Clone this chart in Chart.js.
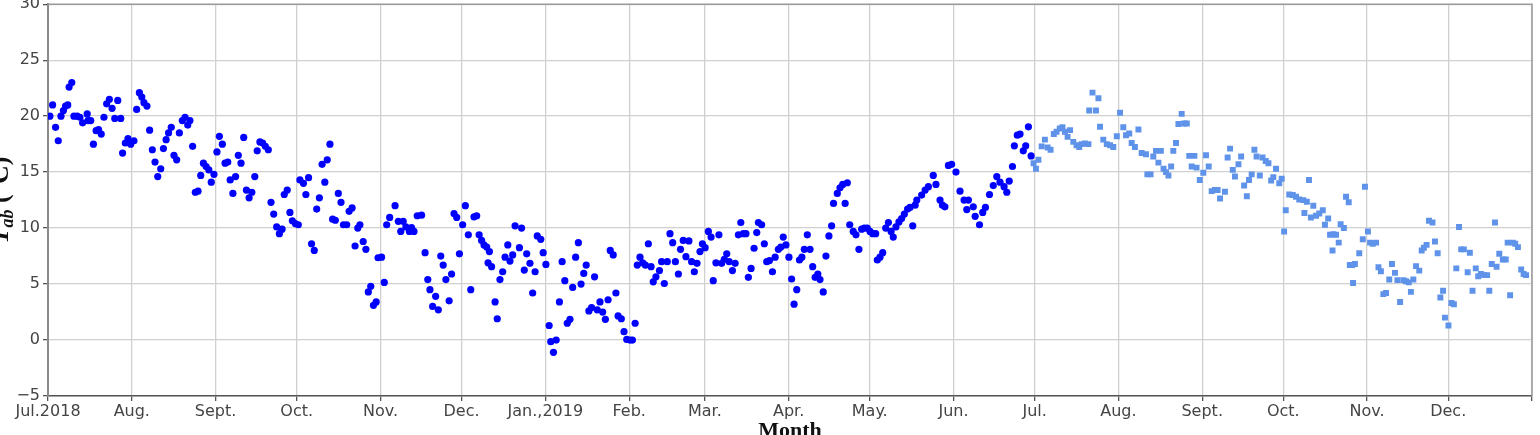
<!DOCTYPE html>
<html>
<head>
<meta charset="utf-8">
<title>Tab by month</title>
<script src="https://cdn.jsdelivr.net/npm/chart.js@4.4.1/dist/chart.umd.min.js"></script>
<style>
  body { margin: 0; background: #fff; }
  #chart-tab { display: block; }
</style>
</head>
<body>
<canvas id="chart-tab" width="1540" height="435"></canvas>
<script>
// x values are days counted from 1 Jul 2018
const darkDays = [
  0.7, 1.7, 2.8, 3.8, 4.8, 5.7, 6.5, 7.3, 7.8, 8.8, 9.6, 10.8, 11.8, 12.8, 14.5, 14.8, 15.8, 16.8, 17.8, 18.7,
  19.7, 20.7, 21.7, 22.7, 23.7, 24.7, 25.8, 26.9, 27.6, 28.6, 29.6, 30.6, 31.8, 32.8, 33.8, 34.7, 35.5, 36.6, 37.6, 38.6,
  39.6, 40.6, 41.7, 42.7, 43.7, 44.6, 45.6, 46.6, 47.6, 48.6, 49.7, 50.7, 51.7, 52.5, 53.5, 54.5, 55.5, 56.5, 57.5, 58.5,
  59.5, 60.4, 61.4, 62.5, 63.4, 64.5, 65.5, 66.5, 67.4, 68.4, 69.4, 70.4, 71.4, 72.4, 73.4, 74.4, 75.4, 76.5, 77.4, 78.4,
  79.4, 80.4, 81.5, 82.5, 83.5, 84.6, 85.6, 86.6, 87.4, 88.5, 89.5, 90.4, 91.5, 92.6, 93.2, 94.5, 95.4, 96.4, 97.5, 98.5,
  99.4, 100.4, 101.4, 102.4, 103.3, 104.3, 105.3, 106.3, 107.4, 108.4, 109.3, 110.5, 111.4, 112.5, 113.6, 114.6, 115.4, 116.6, 117.6, 118.5,
  119.4, 120.4, 121.4, 122.1, 123.4, 124.4, 125.3, 126.4, 128.4, 129.6, 130.5, 131.4, 132.4, 133.7, 134.5, 135.4, 136.6, 138.2, 139.5, 140.5,
  141.3, 142.3, 143.4, 144.4, 145.3, 146.2, 147.2, 148.4, 149.3, 150.2, 151.2, 152.2, 153.4, 154.4, 155.5, 156.4, 157.6, 158.6, 159.5, 160.4,
  161.3, 162.3, 162.8, 163.3, 164.1, 165.4, 166.2, 167.2, 168.2, 169.1, 170.1, 170.9, 171.9, 172.8, 174.4, 175.2, 176.2, 177.1, 178.3, 179.3,
  180.2, 181.0, 182.3, 183.2, 184.2, 185.4, 186.0, 187.0, 188.0, 189.2, 190.2, 191.2, 192.1, 193.1, 194.1, 195.2, 196.2, 197.2, 198.2, 199.1,
  200.1, 201.1, 202.2, 203.2, 204.2, 205.2, 206.2, 207.2, 208.0, 209.1, 210.1, 210.9, 212.1, 213.1, 214.1, 215.3, 216.2, 217.2, 218.0, 219.0,
  220.0, 221.0, 222.1, 223.1, 223.9, 224.9, 226.2, 227.0, 228.0, 229.1, 230.1, 231.1, 232.1, 233.2, 234.0, 235.0, 236.0, 237.1, 238.1, 239.1,
  240.1, 241.2, 242.1, 243.1, 244.3, 245.3, 246.1, 247.1, 248.2, 249.2, 250.2, 251.1, 252.0, 253.2, 254.2, 255.4, 256.3, 257.2, 258.2, 259.1,
  260.1, 261.2, 262.2, 262.8, 264.0, 265.0, 265.9, 266.9, 268.0, 269.0, 270.2, 271.1, 272.0, 273.0, 274.1, 275.1, 276.0, 277.0, 278.0, 278.9,
  279.8, 280.9, 281.9, 282.9, 283.8, 284.8, 285.6, 286.8, 287.8, 288.9, 289.9, 290.6, 292.0, 293.0, 294.0, 294.9, 295.7, 296.6, 297.9, 298.9,
  300.0, 301.0, 302.0, 303.1, 304.1, 305.1, 306.2, 306.8, 307.8, 308.8, 309.9, 310.9, 311.9, 312.7, 313.7, 314.8, 315.8, 316.8, 318.0, 318.9,
  319.9, 320.8, 321.4, 323.2, 324.5, 325.7, 327.5, 328.5, 330.0, 330.9, 331.8, 333.1, 334.3, 335.9, 337.4, 338.9, 339.9, 340.5, 342.3, 343.0,
  344.6, 345.8, 346.8, 348.3, 349.7, 351.0, 352.2, 353.7, 354.7, 355.6, 356.8, 357.5, 358.6, 359.6, 360.8, 361.7, 362.7, 363.7
];
const darkTemps = [
  20.0, 21.0, 19.0, 17.8, 20.0, 20.5, 20.9, 21.0, 22.6, 23.0, 20.0, 20.0, 19.9, 19.4, 20.2, 19.6, 19.6, 17.5, 18.7, 18.8,
  18.4, 19.9, 21.1, 21.5, 20.7, 19.8, 21.4, 19.8, 16.7, 17.6, 18.0, 17.5, 17.8, 20.6, 22.1, 21.7, 21.2, 20.9, 18.75, 17.0,
  15.9, 14.6, 15.3, 17.1, 17.9, 18.5, 19.0, 16.5, 16.1, 18.5, 19.6, 19.9, 19.2, 19.6, 17.3, 13.2, 13.3, 14.7, 15.8, 15.5,
  15.2, 14.1, 14.8, 16.8, 18.2, 17.5, 15.8, 15.9, 14.3, 13.1, 14.6, 16.5, 15.8, 18.1, 13.4, 12.7, 13.2, 14.6, 16.9, 17.7,
  17.6, 17.3, 17.0, 12.3, 11.25, 10.1, 9.5, 9.9, 13.0, 13.4, 11.4, 10.65, 10.4, 10.3, 14.3, 14.0, 13.0, 14.5, 8.6, 8.0,
  11.7, 12.7, 15.7, 14.1, 16.1, 17.5, 10.8, 10.7, 13.1, 12.3, 10.3, 10.3, 11.5, 11.8, 8.4, 10.0, 10.3, 8.8, 8.1, 4.3,
  4.8, 3.1, 3.4, 7.35, 7.4, 5.15, 10.3, 10.95, 12.0, 10.6, 9.7, 10.6, 10.1, 9.7, 10.05, 9.7, 11.1, 11.15, 7.8, 5.4,
  4.5, 3.0, 3.9, 2.7, 7.5, 6.7, 5.4, 3.5, 5.9, 11.3, 10.95, 7.7, 10.3, 12.0, 9.4, 4.5, 11.0, 11.1, 9.4, 8.9,
  8.5, 8.3, 6.9, 7.9, 6.55, 3.4, 1.9, 5.4, 6.1, 7.4, 8.5, 7.05, 7.6, 10.2, 8.25, 10.0, 6.25, 7.7, 6.85, 4.2,
  6.1, 9.3, 9.0, 7.8, 6.75, 1.3, -0.15, -1.1, 0.0, 3.4, 7.0, 5.3, 1.5, 1.85, 4.7, 7.4, 8.7, 5.0, 5.95, 6.7,
  2.6, 2.9, 5.65, 2.7, 3.4, 2.5, 1.85, 3.6, 8.0, 7.6, 4.2, 2.15, 1.9, 0.75, 0.05, 0.0, 0.0, 1.5, 6.7, 7.4,
  6.9, 6.7, 8.6, 6.55, 5.2, 5.65, 6.2, 7.0, 5.05, 7.0, 9.5, 8.7, 7.0, 5.9, 8.1, 8.9, 7.45, 8.85, 7.0, 6.1,
  6.85, 7.9, 8.6, 8.25, 9.7, 9.2, 5.3, 6.9, 9.4, 6.85, 7.2, 7.7, 7.0, 6.2, 6.85, 9.4, 10.5, 9.5, 9.5, 5.6,
  6.4, 8.2, 9.6, 10.5, 10.3, 8.6, 7.0, 7.1, 6.1, 7.4, 8.1, 8.3, 9.2, 8.5, 7.4, 5.45, 3.2, 4.5, 7.15, 7.4,
  8.1, 9.4, 8.1, 6.55, 5.6, 5.9, 5.4, 4.3, 7.5, 9.3, 10.2, 12.2, 13.1, 13.6, 13.9, 12.2, 14.05, 10.3, 9.7, 9.4,
  8.1, 9.9, 10.0, 10.0, 9.7, 9.5, 9.5, 7.15, 7.4, 7.8, 10.0, 10.5, 9.7, 9.2, 10.1, 10.55, 10.85, 11.25, 11.7, 11.85,
  10.2, 12.05, 12.5, 12.95, 13.4, 13.7, 14.7, 13.9, 12.5, 12.05, 11.9, 15.6, 15.7, 15.0, 13.3, 12.5, 11.65, 12.5, 11.9, 11.05,
  10.3, 11.4, 11.85, 13.0, 13.8, 14.6, 14.1, 13.7, 13.2, 14.2, 15.5, 17.35, 18.3, 18.4, 16.9, 17.35, 19.05, 16.45
];

const lightDays = [
  364.6, 365.5, 366.4, 367.6, 368.8, 369.8, 370.9, 372.1, 373.1, 374.3, 375.3, 376.2, 377.2, 378.1, 379.3, 380.5, 381.5, 382.4, 383.6, 384.9,
  385.2, 386.4, 387.7, 388.6, 389.2, 390.4, 391.7, 392.9, 394.1, 395.4, 396.6, 397.8, 398.8, 400.0, 400.9, 402.1, 403.4, 404.6, 406.2, 406.7,
  407.9, 408.9, 409.9, 410.8, 411.7, 412.7, 413.6, 414.5, 415.5, 416.3, 417.3, 418.2, 419.4, 420.3, 421.3, 422.2, 423.1, 424.1, 424.9, 426.1,
  427.4, 428.4, 429.4, 430.5, 431.7, 432.7, 433.6, 435.4, 436.4, 437.3, 438.3, 439.1, 440.4, 441.4, 442.5, 443.5, 444.3, 445.3, 446.3, 447.1,
  448.3, 449.3, 450.5, 451.5, 452.5, 453.3, 454.3, 455.5, 456.4, 457.3, 457.9, 459.2, 460.5, 461.7, 462.9, 464.4, 464.8, 465.7, 466.5, 467.2,
  468.1, 469.1, 470.3, 471.6, 472.4, 473.6, 474.3, 475.2, 475.5, 476.5, 477.5, 478.2, 479.4, 480.2, 481.2, 481.6, 482.5, 482.8, 483.5, 485.1,
  486.4, 487.2, 488.3, 489.1, 490.1, 491.3, 492.2, 493.1, 494.0, 495.0, 496.2, 497.2, 498.3, 499.2, 500.2, 501.4, 502.4, 503.4, 504.2, 505.1,
  506.1, 507.3, 508.2, 509.0, 510.0, 510.9, 512.2, 513.1, 514.1, 515.1, 516.1, 516.8, 518.1, 519.2, 520.1, 521.0, 522.0, 522.8, 523.8, 525.2,
  526.0, 527.0, 528.2, 529.1, 530.1, 531.3, 532.4, 533.2, 534.1, 535.3, 535.9, 536.9, 538.2, 539.3, 540.0, 540.9, 541.9, 542.8, 543.8, 545.0,
  545.9, 546.8
];
const lightTemps = [
  15.8, 15.3, 16.1, 17.3, 17.9, 17.2, 17.0, 18.4, 18.6, 18.9, 19.0, 18.6, 18.15, 18.75, 17.7, 17.4, 17.25, 17.5, 17.55, 17.5,
  20.5, 22.1, 20.5, 21.6, 19.05, 17.9, 17.5, 17.4, 17.25, 18.2, 20.3, 19.0, 18.3, 18.45, 17.6, 17.25, 18.8, 16.7, 16.6, 14.8,
  14.8, 16.4, 16.9, 15.85, 16.9, 15.3, 15.0, 14.7, 15.5, 16.9, 17.6, 19.3, 20.2, 19.35, 19.35, 16.45, 15.5, 16.45, 15.4, 14.3,
  14.95, 16.5, 15.5, 13.3, 13.4, 13.4, 12.65, 13.25, 16.3, 17.1, 15.2, 14.6, 15.7, 16.4, 13.8, 12.85, 14.3, 14.8, 17.0, 16.4,
  14.7, 16.3, 16.0, 15.8, 14.25, 14.55, 15.3, 14.0, 14.4, 9.7, 11.6, 13.0, 12.95, 12.8, 12.55, 12.5, 11.35, 12.35, 14.3, 10.95,
  12.0, 11.1, 11.3, 11.6, 10.3, 10.85, 9.4, 8.0, 9.45, 9.4, 8.7, 10.35, 10.0, 12.8, 12.3, 6.7, 6.7, 5.1, 6.8, 7.75,
  9.0, 13.7, 9.7, 8.7, 8.6, 8.7, 6.5, 6.15, 4.1, 4.2, 5.4, 6.8, 6.0, 5.35, 3.4, 5.35, 5.25, 5.15, 4.3, 5.4,
  6.6, 6.2, 8.0, 8.25, 8.5, 10.65, 10.5, 8.8, 7.75, 3.8, 4.4, 2.0, 1.3, 3.3, 3.2, 6.4, 10.1, 8.1, 8.1, 6.05,
  7.8, 4.4, 6.4, 5.7, 5.9, 5.8, 5.8, 4.4, 6.8, 10.5, 6.55, 7.7, 7.2, 7.2, 8.7, 4.0, 8.7, 8.6, 8.3, 6.3,
  5.9, 5.8
];

// month starts (days from 1 Jul 2018) and their labels
const monthDays = [0, 31, 62, 92, 123, 153, 184, 215, 243, 274, 304, 335, 365, 396, 427, 457, 488, 518, 549];
const monthLabels = ['Jul.2018', 'Aug.', 'Sept.', 'Oct.', 'Nov.', 'Dec.', 'Jan.,2019', 'Feb.', 'Mar.', 'Apr.', 'May.', 'Jun.',
                     'Jul.', 'Aug.', 'Sept.', 'Oct.', 'Nov.', 'Dec.', ''];
const tempMin = -5;
const tempMax = 30;
const tempStep = 5;

let tabCanvas = document.getElementById('chart-tab');

function toPoints(days, temps) {
   return days.map((d, i) => ({ x: d, y: temps[i] }));
}

// top/right frame and the two axis titles, both cut by the canvas edge like the original
const frameAndTitles = {
   id: 'frameAndTitles',
   afterDraw(chart) {
      const ctx = chart.ctx;
      const area = chart.chartArea;
      ctx.save();
      ctx.strokeStyle = '#9a9a9a';
      ctx.lineWidth = 1.5;
      ctx.beginPath();
      ctx.moveTo(area.left, area.top);
      ctx.lineTo(area.right, area.top);
      ctx.lineTo(area.right, area.bottom);
      ctx.stroke();

      ctx.fillStyle = '#111';
      ctx.textBaseline = 'alphabetic';
      ctx.font = 'bold 22px "Liberation Serif"';
      ctx.textAlign = 'center';
      ctx.fillText('Month', (area.left + area.right) / 2, 437);

      // y title: T with subscript ab, then (°C)
      const big = 'bold 26px "Liberation Serif"';
      const bigItalic = 'italic bold 26px "Liberation Serif"';
      const small = 'italic bold 18px "Liberation Serif"';
      ctx.textAlign = 'left';
      ctx.font = bigItalic;
      const wT = ctx.measureText('T').width;
      ctx.font = small;
      const wSub = ctx.measureText('ab').width;
      ctx.font = big;
      const wRest = ctx.measureText(' (\u00B0C)').width;
      const total = wT + wSub + wRest;

      ctx.translate(8, 200);
      ctx.rotate(-Math.PI / 2);
      let x = -total / 2;
      ctx.font = bigItalic;
      ctx.fillText('T', x, 0);
      x += wT;
      ctx.font = small;
      ctx.fillText('ab', x, 5);
      x += wSub;
      ctx.font = big;
      ctx.fillText(' (\u00B0C)', x, 0);
      ctx.restore();
   }
};

let tabData = {
   datasets: [{
      label: 'Jul.2018 - Jun.2019',
      data: toPoints(darkDays, darkTemps),
      pointStyle: 'circle',
      pointRadius: 3.6,
      pointHoverRadius: 3.6,
      pointBackgroundColor: '#0000ff',
      pointBorderWidth: 0
   }, {
      label: 'Jul.2019 - Dec.2019',
      data: toPoints(lightDays, lightTemps),
      pointStyle: 'rect',
      pointRadius: 4.2,
      pointHoverRadius: 4.2,
      pointBackgroundColor: '#5f93ea',
      pointBorderWidth: 0
   }]
};

let tabOptions = {
   responsive: false,
   animation: false,
   layout: {
      padding: { top: 4, right: 8, left: 0, bottom: 0 }
   },
   scales: {
      x: {
         type: 'linear',
         min: monthDays[0],
         max: monthDays[monthDays.length - 1],
         afterBuildTicks: (scale) => {
            scale.ticks = monthDays.map(v => ({ value: v }));
         },
         afterFit: (scale) => {
            scale.height = 39;
         },
         ticks: {
            autoSkip: false,
            maxRotation: 0,
            padding: 1,
            color: '#444',
            font: { family: 'DejaVu Sans', size: 16 },
            callback: (value) => monthLabels[monthDays.indexOf(value)]
         },
         grid: {
            color: '#d0d0d0',
            lineWidth: 1.3,
            tickColor: '#555',
            tickLength: 5
         },
         border: { color: '#555', width: 1.6 }
      },
      y: {
         min: tempMin,
         max: tempMax,
         afterFit: (scale) => {
            // let the top label run past the canvas edge as in the original
            scale.width = 48;
            scale.paddingTop = 0;
            scale.paddingBottom = 0;
         },
         ticks: {
            stepSize: tempStep,
            padding: 3,
            color: '#444',
            font: { family: 'DejaVu Sans', size: 16 },
            callback: (value) => value < 0 ? '\u2212' + Math.abs(value) : value
         },
         grid: {
            color: '#d0d0d0',
            lineWidth: 1.3,
            tickColor: '#555',
            tickLength: 5
         },
         border: { color: '#8a8a8a', width: 2 }
      }
   },
   plugins: {
      legend: { display: false },
      tooltip: { enabled: false }
   }
};

let tabChart = new Chart(tabCanvas, {
   type: 'scatter',
   data: tabData,
   options: tabOptions,
   plugins: [frameAndTitles]
});
</script>
</body>
</html>
